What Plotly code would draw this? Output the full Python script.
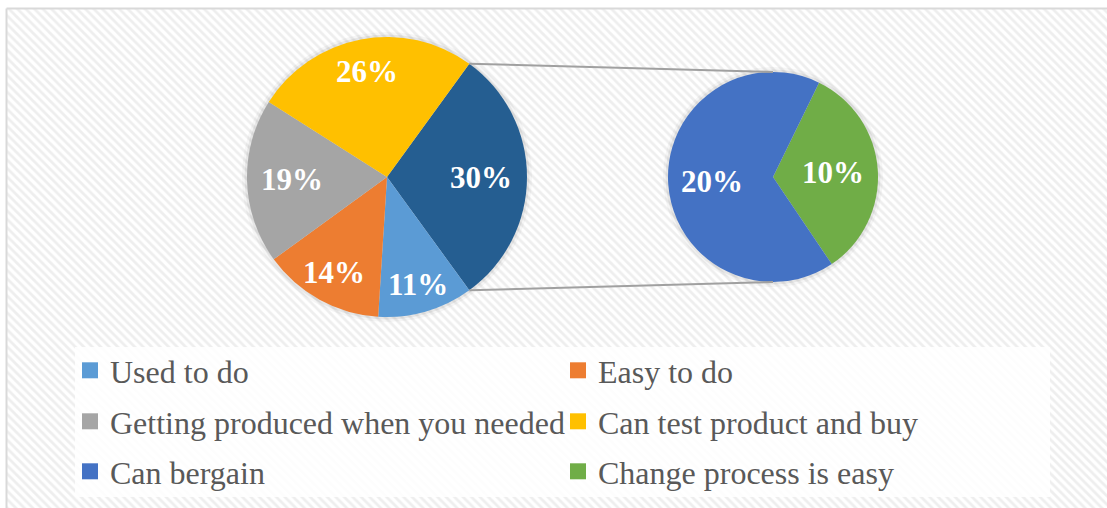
import math
import plotly.graph_objects as go

W, H = 1107, 508

# Primary pie (the 30% "Other" slice is split out in the secondary pie)
main_labels = ["Other", "Used to do", "Easy to do",
               "Getting produced when you needed", "Can test product and buy"]
main_values = [30, 11, 14, 19, 26]
main_colors = ["#255E91", "#5B9BD5", "#ED7D31", "#A5A5A5", "#FFC000"]

# Secondary pie (breakdown of "Other")
sub_labels = ["Change process is easy", "Can bergain"]
sub_values = [10, 20]
sub_colors = ["#70AD47", "#4472C4"]

# Legend entries, two per row
legend_rows = [
    ["Used to do", "Easy to do"],
    ["Getting produced when you needed", "Can test product and buy"],
    ["Can bergain", "Change process is easy"],
]
legend_row_colors = [
    ["#5B9BD5", "#ED7D31"],
    ["#A5A5A5", "#FFC000"],
    ["#4472C4", "#70AD47"],
]

# Pie geometry in pixels
C1, R1 = (387, 177), 140
C2, R2 = (773, 177), 105
# radial position of each data label, as a fraction of the radius
main_label_r = [0.67, 0.80, 0.78, 0.68, 0.77]
sub_label_r = [0.57, 0.58]


def domain(c, r):
    return dict(x=[(c[0] - r) / W, (c[0] + r) / W],
                y=[1 - (c[1] + r) / H, 1 - (c[1] - r) / H])


def mid_angles(values, rotation, total):
    out, start = [], rotation
    for v in values:
        span = v / total * 360
        out.append(start + span / 2)
        start += span
    return out


total = sum(main_values)
# "Other" slice centred at 3 o'clock
other_deg = main_values[0] / total * 360
rot1 = 90 - other_deg / 2
rot2 = 26

fig = go.Figure()

# hatched chart-area background
fig.add_trace(go.Scatter(
    x=[7, W, W, 7, 7], y=[9, 9, H, H, 9], mode="lines", fill="toself",
    line=dict(width=0), fillcolor="white",
    fillpattern=dict(shape="\\", size=6, solidity=0.45,
                     fgcolor="#eeeeee", bgcolor="#ffffff", fillmode="replace"),
    hoverinfo="skip", showlegend=False))

# soft drop shadow behind each pie
for c, r in [(C1, R1), (C2, R2)]:
    for grow, alpha in [(5, 0.035), (2.5, 0.06)]:
        fig.add_trace(go.Pie(
            values=[1], labels=["shadow"], sort=False, textinfo="none",
            marker=dict(colors=[f"rgba(0,0,0,{alpha})"], line=dict(width=0)),
            domain=domain(c, r + grow), showlegend=False, hoverinfo="skip"))

fig.add_trace(go.Pie(
    labels=main_labels, values=main_values, sort=False, direction="clockwise",
    rotation=rot1, marker=dict(colors=main_colors, line=dict(width=0)),
    textinfo="none", domain=domain(C1, R1), showlegend=False,
    hoverinfo="label+value"))

fig.add_trace(go.Pie(
    labels=sub_labels, values=sub_values, sort=False, direction="clockwise",
    rotation=rot2, marker=dict(colors=sub_colors, line=dict(width=0)),
    textinfo="none", domain=domain(C2, R2), showlegend=False,
    hoverinfo="label+value"))

# legend: one horizontal legend per row
legend_font = dict(family="Liberation Serif", size=32, color="#595959")
row_tops = [343, 394, 444]
layout_legends = {}
for i, (labs, cols) in enumerate(zip(legend_rows, legend_row_colors)):
    key = "legend" if i == 0 else f"legend{i + 1}"
    for lab, col in zip(labs, cols):
        fig.add_trace(go.Scatter(
            x=[None], y=[None], mode="markers", name=lab, legend=key,
            marker=dict(symbol="square", size=16, color=col)))
    layout_legends[key] = dict(
        orientation="h", x=70 / W, y=1 - row_tops[i] / H,
        xanchor="left", yanchor="top", bgcolor="rgba(0,0,0,0)", borderwidth=0,
        entrywidth=443, entrywidthmode="pixels", font=legend_font,
        itemclick=False, itemdoubleclick=False)

# data labels
label_font = dict(family="Liberation Serif", size=31, color="white", weight="bold")
annotations = []
for v, a, f in zip(main_values, mid_angles(main_values, rot1, total), main_label_r):
    t = math.radians(a)
    annotations.append(dict(
        x=C1[0] + f * R1 * math.sin(t), y=C1[1] - f * R1 * math.cos(t),
        xref="x", yref="y", text=f"{v}%", showarrow=False, font=label_font))
for v, a, f in zip(sub_values, mid_angles(sub_values, rot2, sum(sub_values)), sub_label_r):
    t = math.radians(a)
    annotations.append(dict(
        x=C2[0] + f * R2 * math.sin(t), y=C2[1] - f * R2 * math.cos(t),
        xref="x", yref="y", text=f"{v}%", showarrow=False, font=label_font))

# connector lines from the edges of the "Other" slice to the secondary pie
a_top = math.radians(rot1)
a_bot = math.radians(rot1 + other_deg)
p_top = (C1[0] + R1 * math.sin(a_top), C1[1] - R1 * math.cos(a_top))
p_bot = (C1[0] + R1 * math.sin(a_bot), C1[1] - R1 * math.cos(a_bot))
shapes = [
    dict(type="line", xref="x", yref="y", x0=p_top[0], y0=p_top[1],
         x1=C2[0], y1=C2[1] - R2, line=dict(color="#A0A0A0", width=2)),
    dict(type="line", xref="x", yref="y", x0=p_bot[0], y0=p_bot[1],
         x1=C2[0], y1=C2[1] + R2, line=dict(color="#A0A0A0", width=2)),
    # legend panel
    dict(type="rect", xref="x", yref="y", x0=75, y0=347, x1=1050, y1=497,
         fillcolor="rgba(255,255,255,0.85)", line=dict(width=0)),
    # chart-area border (top and left)
    dict(type="line", xref="x", yref="y", x0=6.5, y0=8.5, x1=W, y1=8.5,
         line=dict(color="#D9D9D9", width=2)),
    dict(type="line", xref="x", yref="y", x0=6.5, y0=8.5, x1=6.5, y1=H,
         line=dict(color="#D9D9D9", width=2)),
]

fig.update_layout(
    width=W, height=H, margin=dict(l=0, r=0, t=0, b=0),
    paper_bgcolor="white", plot_bgcolor="rgba(0,0,0,0)",
    xaxis=dict(range=[0, W], visible=False, fixedrange=True, domain=[0, 1]),
    yaxis=dict(range=[H, 0], visible=False, fixedrange=True, domain=[0, 1]),
    shapes=shapes, annotations=annotations,
    **layout_legends,
)

fig.write_html("out.html")
